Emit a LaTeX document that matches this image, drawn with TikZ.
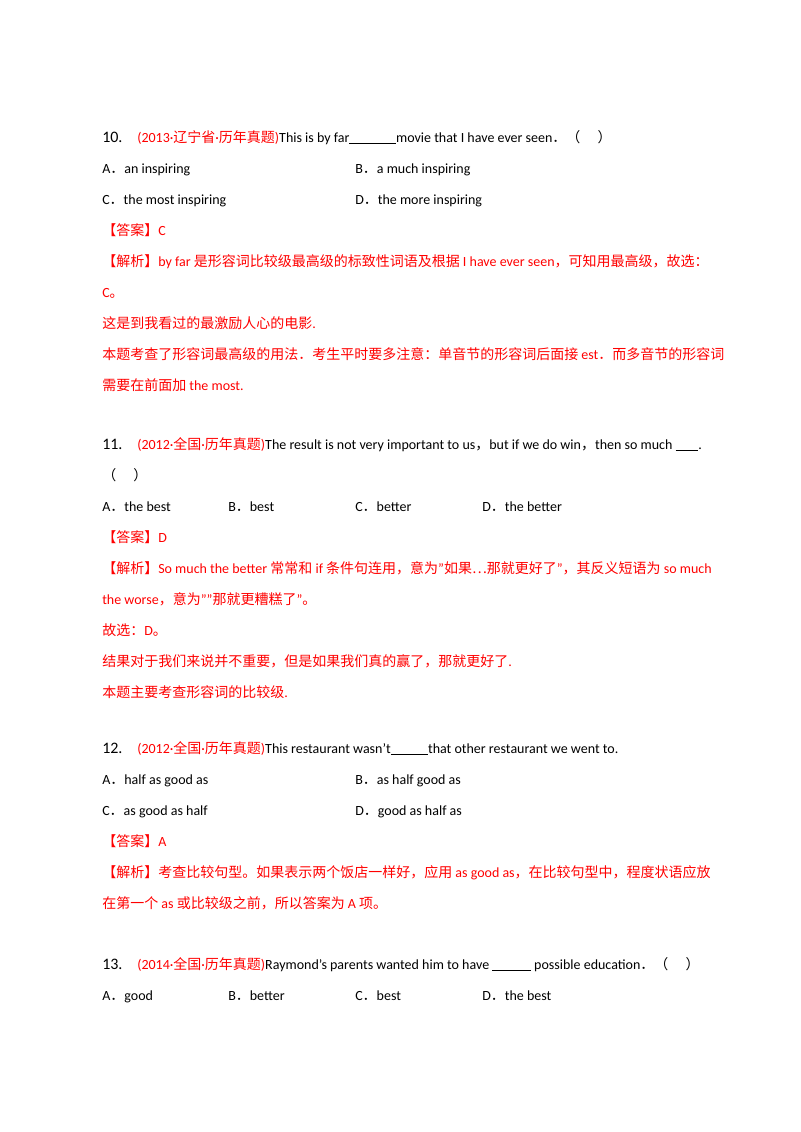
\documentclass[tikz,border=0pt]{standalone}
\usepackage{fontspec}
\setmainfont{Carlito}
\newfontfamily\cjk{Noto Sans CJK SC}
\definecolor{ansred}{RGB}{255,0,0}
\newcommand{\zh}[1]{{\cjk #1}}
\newcommand{\blank}[1]{\rule[-1.5pt]{#1}{0.5pt}}
\newcommand{\dq}{\symbol{34}}
\newcommand{\sq}{\symbol{39}}
\tikzset{t/.style={anchor=base west,inner sep=0pt,font=\fontsize{10.5pt}{12pt}\selectfont},
 r/.style={t,text=ansred},
 num/.style={anchor=base west,inner sep=0pt,font=\fontsize{12pt}{14pt}\selectfont}}
\begin{document}
\begin{tikzpicture}[x=0.75pt,y=-0.75pt]
\useasboundingbox (0,0) rectangle (800,1132);
\fill[white] (0,0) rectangle (800,1132);
% Q10
\node[num] (q10n) at (102,142) {10.};
\node[t] (q10) at (137,142) {\textcolor{ansred}{(2013·\zh{辽宁省}·\zh{历年真题})}This is by far\blank{35pt}movie that I have ever seen\zh{．（\quad\ ）}};
\node[t] (a10a) at (102,173) {A\zh{．}an inspiring};
\node[t] (a10b) at (355,173) {B\zh{．}a much inspiring};
\node[t] (a10c) at (102,204) {C\zh{．}the most inspiring};
\node[t] (a10d) at (355,204) {D\zh{．}the more inspiring};
\node[r] (k10) at (102,235) {\zh{【答案】}C};
\node[r] (j10a) at (102,266) {\zh{【解析】}by far \zh{是形容词比较级最高级的标致性词语及根据} I have ever seen\zh{，可知用最高级，故选：}};
\node[r] (j10b) at (102,297) {C\zh{。}};
\node[r] (j10c) at (102,328) {\zh{这是到我看过的最激励人心的电影}.};
\node[r] (j10d) at (102,359) {\zh{本题考查了形容词最高级的用法．考生平时要多注意：单音节的形容词后面接} est\zh{．而多音节的形容词}};
\node[r] (j10e) at (102,390) {\zh{需要在前面加} the most.};
% Q11
\node[num] (q11n) at (102,449) {11.};
\node[t] (q11) at (137,449) {\textcolor{ansred}{(2012·\zh{全国}·\zh{历年真题})}The result is not very important to us\zh{，}but if we do win\zh{，}then so much \blank{17pt}.};
\node[t] (q11b) at (102,480) {\zh{（\quad\ ）}};
\node[t] (a11a) at (102,511) {A\zh{．}the best};
\node[t] (a11b) at (228,511) {B\zh{．}best};
\node[t] (a11c) at (355,511) {C\zh{．}better};
\node[t] (a11d) at (482,511) {D\zh{．}the better};
\node[r] (k11) at (102,542) {\zh{【答案】}D};
\node[r] (j11a) at (102,573) {\zh{【解析】}So much the better \zh{常常和} if \zh{条件句连用，意为}\dq\zh{如果⋯那就更好了}\dq\zh{，其反义短语为} so much};
\node[r] (j11b) at (102,604) {the worse\zh{，意为}\dq\dq\zh{那就更糟糕了}\dq\zh{。}};
\node[r] (j11c) at (102,635) {\zh{故选：}D\zh{。}};
\node[r] (j11d) at (102,666) {\zh{结果对于我们来说并不重要，但是如果我们真的赢了，那就更好了}.};
\node[r] (j11e) at (102,697) {\zh{本题主要考查形容词的比较级}.};
% Q12
\node[num] (q12n) at (102,753) {12.};
\node[t] (q12) at (137,753) {\textcolor{ansred}{(2012·\zh{全国}·\zh{历年真题})}This restaurant wasn\sq t\blank{28pt}that other restaurant we went to.};
\node[t] (a12a) at (102,784) {A\zh{．}half as good as};
\node[t] (a12b) at (355,784) {B\zh{．}as half good as};
\node[t] (a12c) at (102,815) {C\zh{．}as good as half};
\node[t] (a12d) at (355,815) {D\zh{．}good as half as};
\node[r] (k12) at (102,846) {\zh{【答案】}A};
\node[r] (j12a) at (102,877) {\zh{【解析】考查比较句型。如果表示两个饭店一样好，应用} as good as\zh{，在比较句型中，程度状语应放}};
\node[r] (j12b) at (102,908) {\zh{在第一个} as \zh{或比较级之前，所以答案为} A \zh{项。}};
% Q13
\node[num] (q13n) at (102,969) {13.};
\node[t] (q13) at (137,969) {\textcolor{ansred}{(2014·\zh{全国}·\zh{历年真题})}Raymond\sq s parents wanted him to have \blank{29pt} possible education\zh{．（\quad\ ）}};
\node[t] (a13a) at (102,1000) {A\zh{．}good};
\node[t] (a13b) at (228,1000) {B\zh{．}better};
\node[t] (a13c) at (355,1000) {C\zh{．}best};
\node[t] (a13d) at (482,1000) {D\zh{．}the best};
\end{tikzpicture}
\end{document}
